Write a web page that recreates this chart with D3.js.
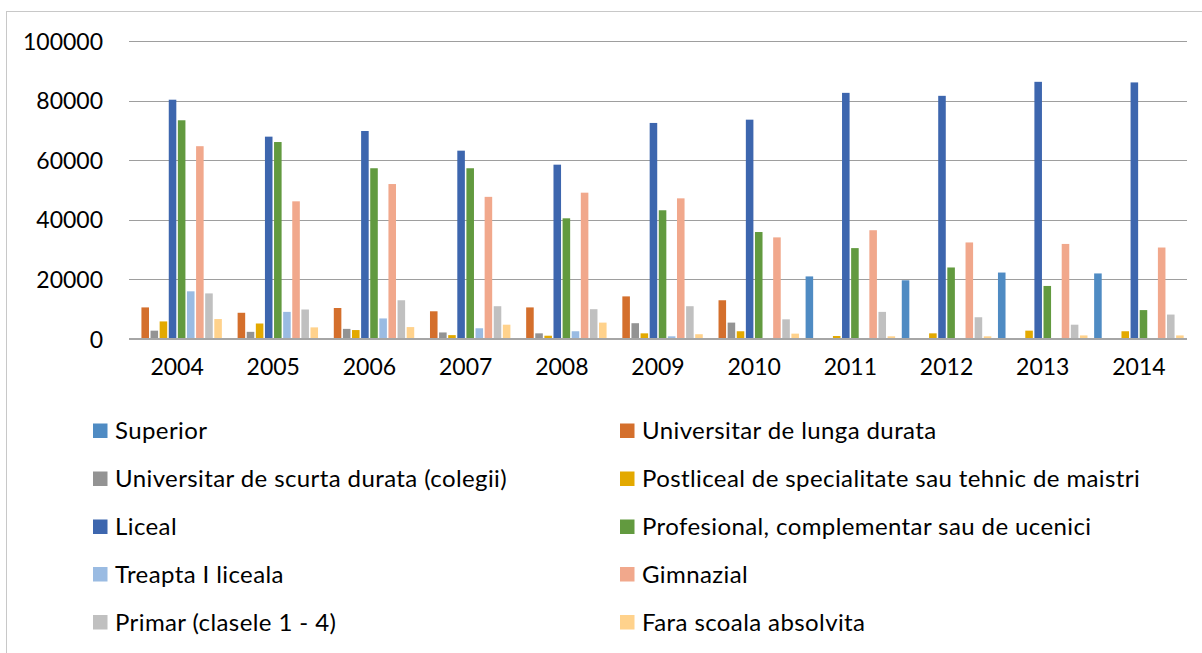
<!DOCTYPE html>
<html>
<head>
<meta charset="utf-8">
<script src="https://cdn.jsdelivr.net/npm/d3@7"></script>
<style>
  html, body { margin: 0; padding: 0; background: #fff; }
  svg { display: block; }
  text { font-family: Lato, "Open Sans", sans-serif; fill: #000; }
</style>
</head>
<body>
<svg id="chart" width="1202" height="653"></svg>
<script>
const years = ["2004","2005","2006","2007","2008","2009","2010","2011","2012","2013","2014"];
const seriesNames = [
  "Superior",
  "Universitar de lunga durata",
  "Universitar de scurta durata (colegii)",
  "Postliceal de specialitate sau tehnic de maistri",
  "Liceal",
  "Profesional, complementar sau de ucenici",
  "Treapta I liceala",
  "Gimnazial",
  "Primar (clasele 1 - 4)",
  "Fara scoala absolvita"
];
const superior      = [0, 0, 0, 0, 0, 0, 0, 21000, 19700, 22300, 22000];
const univLunga     = [10600, 8800, 10400, 9300, 10600, 14300, 13000, 0, 0, 0, 0];
const univScurta    = [2800, 2400, 3400, 2200, 1900, 5300, 5500, 0, 0, 0, 0];
const postliceal    = [5900, 5200, 3000, 1300, 1100, 1900, 2600, 1000, 1900, 2800, 2600];
const liceal        = [80300, 67900, 69800, 63200, 58500, 72500, 73600, 82600, 81600, 86300, 86100];
const profesional   = [73400, 66100, 57300, 57300, 40500, 43200, 35900, 30500, 24000, 17800, 9700];
const treaptaI      = [16000, 9100, 6900, 3600, 2600, 900, 100, 0, 0, 0, 0];
const gimnazial     = [64700, 46200, 52000, 47700, 49100, 47200, 34100, 36500, 32400, 31900, 30700];
const primar        = [15300, 9900, 13000, 11000, 10000, 11000, 6600, 9100, 7300, 4800, 8200];
const fara          = [6700, 3900, 4000, 4800, 5500, 1600, 1800, 900, 900, 1200, 1200];
const yTicks = [0, 20000, 40000, 60000, 80000, 100000];

const seriesValues = [superior, univLunga, univScurta, postliceal, liceal, profesional, treaptaI, gimnazial, primar, fara];
const colors = ["#4f8bc3", "#d46f2c", "#939393", "#e3a900", "#3d66ae", "#629a3f", "#9abbe2", "#f1a88c", "#c0c0c0", "#ffd28c"];

const svg = d3.select("#chart");

// chart border
svg.append("rect")
  .attr("x", 6.5).attr("y", 11.5)
  .attr("width", 1300).attr("height", 700)
  .attr("fill", "none").attr("stroke", "#c8c8c8").attr("stroke-width", 1);

const x0 = d3.scaleBand().domain(years).range([129, 1187]).paddingInner(0.054).paddingOuter(0.027);
const x1 = d3.scaleBand().domain(seriesNames).range([0, x0.bandwidth()]).paddingInner(0.17).paddingOuter(0.08);
const y = d3.scaleLinear().domain([0, 100000]).range([339, 41]);

// gridlines
svg.append("g").selectAll("line")
  .data(yTicks.filter(d => d > 0))
  .join("line")
  .attr("x1", 129).attr("x2", 1187)
  .attr("y1", d => Math.round(y(d)) + 0.5).attr("y2", d => Math.round(y(d)) + 0.5)
  .attr("stroke", "#9e9e9e").attr("stroke-width", 1.2);

// y axis labels
const yAxis = d3.axisLeft(y).tickValues(yTicks).tickSize(0).tickPadding(0).tickFormat(d3.format("d"));
const yg = svg.append("g").attr("transform", "translate(103,0)").call(yAxis);
yg.select(".domain").remove();
yg.selectAll("text").attr("font-size", 23).attr("font-family", "Lato, sans-serif").attr("dy", "0.35em");

// bars
const groups = svg.append("g").selectAll("g")
  .data(years)
  .join("g")
  .attr("transform", d => `translate(${x0(d)},0)`);

groups.selectAll("rect")
  .data((yr, i) => seriesNames.map((s, k) => ({ s, k, v: seriesValues[k][i] })))
  .join("rect")
  .attr("x", d => x1(d.s))
  .attr("width", x1.bandwidth())
  .attr("y", d => y(d.v))
  .attr("height", d => y(0) - y(d.v))
  .attr("fill", d => colors[d.k]);

// x axis
const xAxis = d3.axisBottom(x0).tickSize(0).tickPadding(20);
const xg = svg.append("g").attr("transform", `translate(0,${y(0)})`).call(xAxis);
xg.select(".domain").attr("stroke", "#a6a6a6").attr("stroke-width", 2).attr("d", `M129,0H1187`);
xg.selectAll("text").attr("font-size", 23).attr("font-family", "Lato, sans-serif");

// legend
const legendRows = [431, 479, 527, 574.5, 622.5];
const legend = svg.append("g");
seriesNames.forEach((name, k) => {
  const col = k % 2;
  const row = Math.floor(k / 2);
  const sx = col === 0 ? 93 : 620;
  const cy = legendRows[row];
  legend.append("rect")
    .attr("x", sx).attr("y", cy - 7.5)
    .attr("width", 14.5).attr("height", 14.5)
    .attr("fill", colors[k]);
  legend.append("text")
    .attr("x", sx + 22).attr("y", cy)
    .attr("dy", "0.35em")
    .attr("font-size", 24)
    .attr("letter-spacing", "0.4px")
    .text(name);
});
</script>
</body>
</html>
